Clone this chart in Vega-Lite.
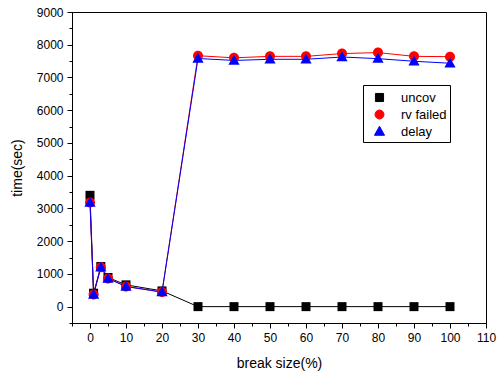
{
  "$schema": "https://vega.github.io/schema/vega-lite/v6.json",
  "autosize": "none",
  "width": 414,
  "height": 311,
  "padding": {"left": 72, "top": 12, "right": 14, "bottom": 56},
  "background": "white",
  "config": {
    "view": {"stroke": "black", "strokeWidth": 1},
    "font": "Liberation Sans",
    "axis": {
      "grid": false,
      "domainColor": "black",
      "tickColor": "black",
      "labelColor": "black",
      "titleColor": "black",
      "labelFont": "Liberation Sans",
      "titleFont": "Liberation Sans",
      "labelFontSize": 12,
      "titleFontSize": 14,
      "titleFontWeight": "normal",
      "labelOverlap": false,
      "labelBound": false
    },
    "legend": {
      "title": null,
      "orient": "none",
      "legendX": 291,
      "legendY": 73,
      "strokeColor": "black",
      "padding": 3,
      "symbolSize": 324,
      "symbolStrokeWidth": 1,
      "symbolOffset": 4,
      "symbolOpacity": 1,
      "labelOffset": 12,
      "labelFontSize": 13,
      "labelFont": "Liberation Sans",
      "labelColor": "black",
      "rowPadding": 0,
      "cornerRadius": 0
    }
  },
  "data": {
    "values": [
      {"x": 0, "y": 3400, "series": "uncov"},
      {"x": 1, "y": 410, "series": "uncov"},
      {"x": 3, "y": 1225, "series": "uncov"},
      {"x": 5, "y": 890, "series": "uncov"},
      {"x": 10, "y": 665, "series": "uncov"},
      {"x": 20, "y": 480, "series": "uncov"},
      {"x": 30, "y": 0, "series": "uncov"},
      {"x": 40, "y": 0, "series": "uncov"},
      {"x": 50, "y": 0, "series": "uncov"},
      {"x": 60, "y": 0, "series": "uncov"},
      {"x": 70, "y": 0, "series": "uncov"},
      {"x": 80, "y": 0, "series": "uncov"},
      {"x": 90, "y": 0, "series": "uncov"},
      {"x": 100, "y": 0, "series": "uncov"},
      {"x": 0, "y": 3180, "series": "rv failed"},
      {"x": 1, "y": 370, "series": "rv failed"},
      {"x": 3, "y": 1200, "series": "rv failed"},
      {"x": 5, "y": 860, "series": "rv failed"},
      {"x": 10, "y": 615, "series": "rv failed"},
      {"x": 20, "y": 445, "series": "rv failed"},
      {"x": 30, "y": 7665, "series": "rv failed"},
      {"x": 40, "y": 7600, "series": "rv failed"},
      {"x": 50, "y": 7645, "series": "rv failed"},
      {"x": 60, "y": 7645, "series": "rv failed"},
      {"x": 70, "y": 7730, "series": "rv failed"},
      {"x": 80, "y": 7760, "series": "rv failed"},
      {"x": 90, "y": 7645, "series": "rv failed"},
      {"x": 100, "y": 7635, "series": "rv failed"},
      {"x": 0, "y": 3180, "series": "delay"},
      {"x": 1, "y": 370, "series": "delay"},
      {"x": 3, "y": 1200, "series": "delay"},
      {"x": 5, "y": 860, "series": "delay"},
      {"x": 10, "y": 615, "series": "delay"},
      {"x": 20, "y": 445, "series": "delay"},
      {"x": 30, "y": 7580, "series": "delay"},
      {"x": 40, "y": 7520, "series": "delay"},
      {"x": 50, "y": 7555, "series": "delay"},
      {"x": 60, "y": 7555, "series": "delay"},
      {"x": 70, "y": 7625, "series": "delay"},
      {"x": 80, "y": 7575, "series": "delay"},
      {"x": 90, "y": 7495, "series": "delay"},
      {"x": 100, "y": 7435, "series": "delay"}
    ]
  },
  "encoding": {
    "x": {
      "field": "x", "type": "quantitative",
      "scale": {"domain": [-5, 110], "nice": false, "zero": false},
      "axis": {
        "title": "break size(%)",
        "values": [-5, 0, 5, 10, 15, 20, 25, 30, 35, 40, 45, 50, 55, 60, 65, 70, 75, 80, 85, 90, 95, 100, 105, 110],
        "labelExpr": "datum.value % 10 == 0 ? datum.label : ''",
        "tickSize": {"condition": {"test": "datum.value % 10 == 0", "value": 5}, "value": 3},
        "labelPadding": 4,
        "titlePadding": 13,
        "labelFlush": false
      }
    },
    "y": {
      "field": "y", "type": "quantitative",
      "scale": {"domain": [-500, 9000], "nice": false, "zero": false},
      "axis": {
        "title": "time(sec)",
        "values": [-500, 0, 500, 1000, 1500, 2000, 2500, 3000, 3500, 4000, 4500, 5000, 5500, 6000, 6500, 7000, 7500, 8000, 8500, 9000],
        "labelExpr": "datum.value % 1000 == 0 ? datum.label : ''",
        "tickSize": {"condition": {"test": "datum.value % 1000 == 0", "value": 5}, "value": 3},
        "format": "d",
        "labelPadding": 4,
        "titlePadding": 12,
        "labelFlush": false
      }
    }
  },
  "layer": [
    {
      "mark": {"type": "line", "strokeWidth": 1},
      "encoding": {
        "stroke": {
          "field": "series", "type": "nominal",
          "scale": {"domain": ["uncov", "rv failed", "delay"], "range": ["#000000", "#ff0000", "#0000ff"]},
          "legend": {"title": null}
        },
        "order": {"field": "x", "type": "quantitative"}
      }
    },
    {
      "mark": {"type": "point", "filled": true, "opacity": 1, "size": 400},
      "encoding": {
        "fill": {
          "field": "series", "type": "nominal",
          "scale": {"domain": ["uncov", "rv failed", "delay"], "range": ["#000000", "#ff0000", "#0000ff"]},
          "legend": {"title": null}
        },
        "shape": {
          "field": "series", "type": "nominal",
          "scale": {
            "domain": ["uncov", "rv failed", "delay"],
            "range": [
              "M-0.45,-0.45H0.45V0.45H-0.45Z",
              "M-0.5,0A0.5,0.5 0 1,0 0.5,0A0.5,0.5 0 1,0 -0.5,0Z",
              "M0,-0.58L0.56,0.42H-0.56Z"
            ]
          },
          "legend": {"title": null}
        }
      }
    }
  ]
}
